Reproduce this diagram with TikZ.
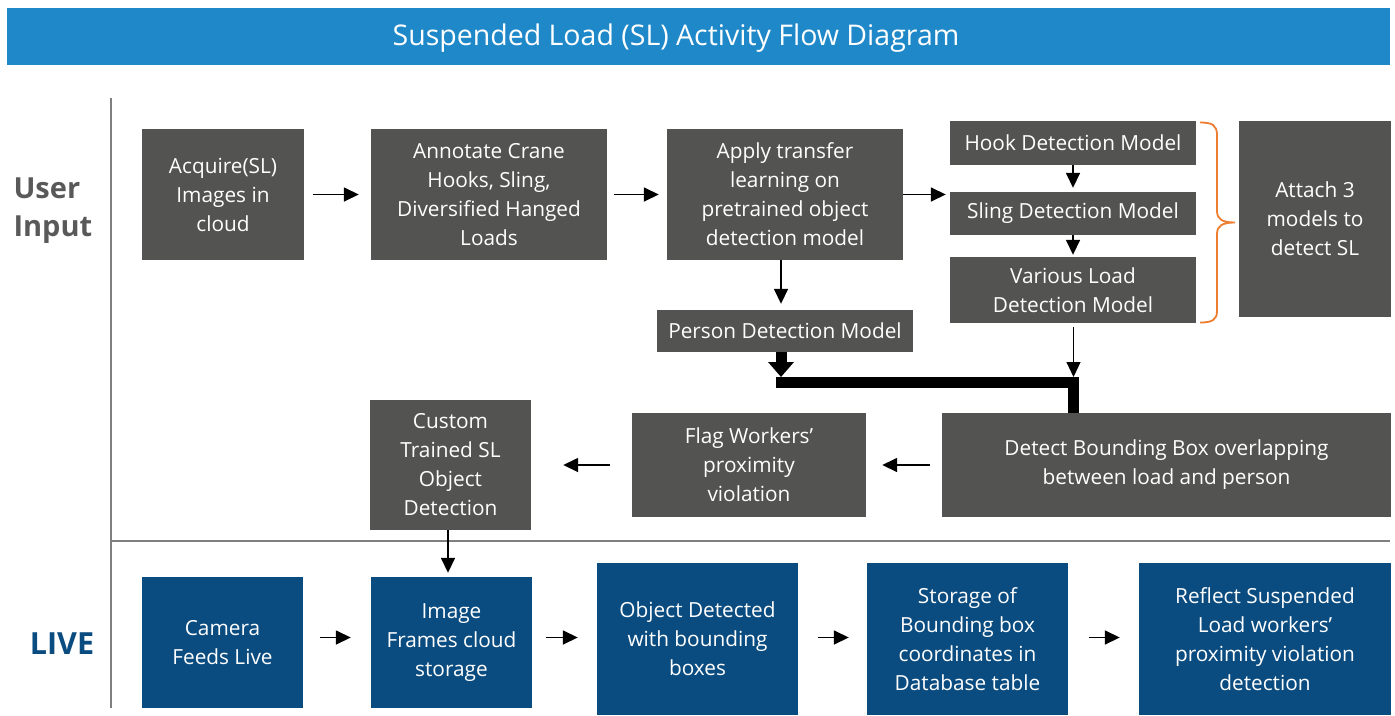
\documentclass[tikz,border=0pt]{standalone}
\usepackage{fontspec}
\setmainfont{Open Sans}
\usetikzlibrary{arrows.meta,calc}
\definecolor{titleblue}{HTML}{1F88C9}
\definecolor{boxgray}{HTML}{535451}
\definecolor{liveblue}{HTML}{0B4C80}
\definecolor{linegray}{HTML}{7F7F7F}
\definecolor{labelgray}{HTML}{595959}
\definecolor{braceorange}{HTML}{ED7D31}
\begin{document}
\begin{tikzpicture}[x=1pt,y=-1pt,
  box/.style={fill=boxgray, text=white, align=center, inner sep=0pt, font=\fontsize{20.8}{29}\selectfont},
  lbox/.style={box, fill=liveblue},
  arr/.style={-{Triangle[length=15pt,width=14pt]}, line width=1.6pt},
  thinarr/.style={-{Triangle[length=15pt,width=14pt]}, line width=1pt},
  thickarr/.style={-{Triangle[length=15pt,width=25pt]}, line width=11pt},
  lane/.style={draw=linegray, line width=2.5pt},
  lanelabel/.style={font=\fontsize{29}{38}\selectfont\bfseries, align=left}]
\useasboundingbox (0,0) rectangle (1395,715);
% title
\node[fill=titleblue, minimum width=1383pt, minimum height=57pt, inner sep=0pt] (titlebar) at (698.5,36.5) {};
\node[text=white, font=\fontsize{28.5}{32}\selectfont] (title) at (676,38) {Suspended Load (SL) Activity Flow Diagram};
% lanes
\draw[lane] (111,98) -- (111,708);
\draw[lane] (111,541) -- (1390,541);
\node[lanelabel, text=labelgray, anchor=west] (user) at (10,211) {User\\Input};
\node[lanelabel, text=liveblue, font=\fontsize{30.5}{38}\selectfont\bfseries] (live) at (62,644) {LIVE};
% user input boxes
\node[box, minimum width=162pt, minimum height=131pt] (a1) at (223,194.5) {Acquire(SL)\\Images in\\cloud};
\node[box, minimum width=236pt, minimum height=131pt] (a2) at (489,194.5) {Annotate Crane\\Hooks, Sling,\\Diversified Hanged\\Loads};
\node[box, minimum width=236pt, minimum height=131pt] (a3) at (785,194.5) {Apply transfer\\learning on\\pretrained object\\detection model};
\node[box, minimum width=246pt, minimum height=44pt] (hook) at (1073,143) {Hook Detection Model};
\node[box, minimum width=246pt, minimum height=43pt] (sling) at (1073,213.5) {Sling Detection Model};
\node[box, minimum width=246pt, minimum height=66pt] (various) at (1073,290) {Various Load\\Detection Model};
\node[box, minimum width=152pt, minimum height=196pt] (attach) at (1315,219) {Attach 3\\models to\\detect SL};
\node[box, minimum width=256pt, minimum height=42pt] (person) at (785,331) {Person Detection Model};
\node[box, minimum width=449pt, minimum height=104pt] (detect) at (1166.5,465) {Detect Bounding Box overlapping\\between load and person};
\node[box, minimum width=234pt, minimum height=104pt] (flag) at (749,465) {Flag Workers'\\proximity\\violation};
\node[box, minimum width=161pt, minimum height=130pt] (custom) at (450.5,465) {Custom\\Trained SL\\Object\\Detection};
% live boxes
\node[lbox, minimum width=161pt, minimum height=131pt] (camera) at (222.5,642.5) {Camera\\Feeds Live};
\node[lbox, minimum width=161pt, minimum height=131pt] (image) at (451.5,642.5) {Image\\Frames cloud\\storage};
\node[lbox, minimum width=201pt, minimum height=152pt] (object) at (697.5,639) {Object Detected\\with bounding\\boxes};
\node[lbox, minimum width=201pt, minimum height=152pt] (storage) at (967.5,639) {Storage of\\Bounding box\\coordinates in\\Database table};
\node[lbox, minimum width=252pt, minimum height=152pt] (reflect) at (1265,639) {Reflect Suspended\\Load workers'\\proximity violation\\detection};
% brace
\draw[braceorange, line width=1.8pt]
  (1200,122.5) .. controls (1212,122.5) and (1217,125) .. (1217,135) -- (1217,211)
  .. controls (1217,219) and (1222,222.5) .. (1235,222.5)
  .. controls (1222,222.5) and (1217,226) .. (1217,234) -- (1217,311)
  .. controls (1217,320) and (1212,322.5) .. (1200,322.5);
% junction coordinates
\coordinate (j1) at (781,382.5);
\coordinate (j2) at (1073.5,382.5);
% connectors
\draw[arr, shorten <=9pt, shorten >=12pt] (a1.east) -- (a2.west);
\draw[arr, shorten <=7pt, shorten >=8pt] (a2.east) -- (a3.west);
\draw[arr, shorten >=4pt] (a3.east) -- (a3.east -| sling.west);
\draw[arr, shorten >=4pt] (hook.south) -- (sling.north);
\draw[arr, shorten >=2pt] (sling.south) -- (various.north);
\draw[arr, shorten >=6pt] (a3.south -| j1) -- (person.north -| j1);
\draw[thinarr, shorten <=4pt] (various.south -| j2) -- ($(j2)+(0,-5.5)$);
\draw[thickarr] (person.south -| j1) -- ($(j1)+(0,-5.5)$);
\draw[line width=11pt, line join=miter] ($(j1)+(-5.5,0)$) -- (j2) -- (j2 |- detect.north);
\draw[arr, shorten <=12pt, shorten >=16pt] (detect.west) -- (flag.east);
\draw[arr, shorten <=22pt, shorten >=32pt] (flag.west) -- (custom.east);
\draw[arr, shorten >=4pt] (custom.south -| 448,0) -- (image.north -| 448,0);
\draw[arr, shorten <=17pt, shorten >=20pt] (camera.east |- 0,637.5) -- (image.west |- 0,637.5);
\draw[arr, shorten <=14pt, shorten >=19pt] (image.east |- 0,637.5) -- (object.west |- 0,637.5);
\draw[arr, shorten <=20pt, shorten >=18pt] (object.east |- 0,637.5) -- (storage.west |- 0,637.5);
\draw[arr, shorten <=21pt, shorten >=19pt] (storage.east |- 0,637.5) -- (reflect.west |- 0,637.5);
\end{tikzpicture}
\end{document}
